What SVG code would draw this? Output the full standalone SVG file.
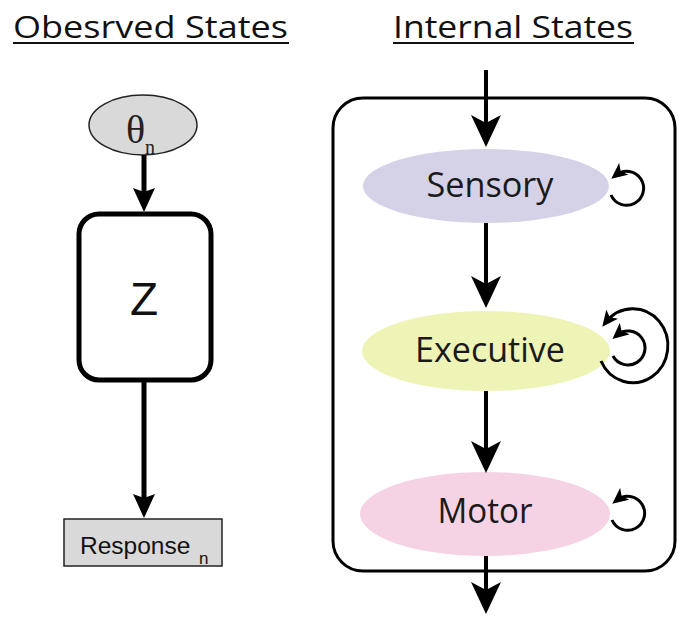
<svg xmlns="http://www.w3.org/2000/svg" width="678" height="618" viewBox="0 0 678 618">
<defs>
<style>
.title{font-family:"Open Sans","Noto Sans",sans-serif;font-size:31px;fill:#111}
.ul{stroke:#111;stroke-width:2}
.lbl{font-family:"Open Sans","Noto Sans",sans-serif;font-size:34px;fill:#1a1a1a;text-anchor:middle}
.conn{stroke:#000;fill:none}
.gray{fill:#d9d9d9;stroke:#222;stroke-width:1.5}
.serif{font-family:"Liberation Serif","Times New Roman",serif;fill:#222}
.sans{font-family:"Liberation Sans",Arial,sans-serif;fill:#111}
</style>
<marker id="big" viewBox="0 0 32 30" refX="24" refY="15" markerWidth="32" markerHeight="30" markerUnits="userSpaceOnUse" orient="auto">
<path d="M0,0 L32,15 L0,30 L8,15 Z" fill="#000"/>
</marker>
<marker id="med" viewBox="0 0 24 22" refX="18" refY="11" markerWidth="24" markerHeight="22" markerUnits="userSpaceOnUse" orient="auto">
<path d="M0,0 L24,11 L0,22 L4,11 Z" fill="#000"/>
</marker>
<marker id="sm" viewBox="0 0 16 15" refX="10" refY="7.5" markerWidth="16" markerHeight="15" markerUnits="userSpaceOnUse" orient="auto">
<path d="M0,0 L16,7.5 L0,15 L4,7.5 Z" fill="#000"/>
</marker>
</defs>
<rect width="678" height="618" fill="#fff"/>

<g id="titles">
<text class="title" x="13" y="38" textLength="275" lengthAdjust="spacingAndGlyphs">Obesrved States</text>
<line class="ul" x1="13" y1="43" x2="289" y2="43"/>
<text class="title" x="393" y="38" textLength="240" lengthAdjust="spacingAndGlyphs">Internal States</text>
<line class="ul" x1="393" y1="43" x2="634" y2="43"/>
</g>

<g id="internal-container">
<rect x="333" y="98" width="342" height="473" rx="30" ry="30" fill="none" stroke="#000" stroke-width="3"/>
</g>

<g id="theta">
<ellipse class="gray" cx="143" cy="125" rx="54" ry="30"/>
<text class="serif" x="126" y="143" font-size="40">θ<tspan x="145" y="154" font-size="20">n</tspan></text>
</g>

<g id="Z">
<rect x="79" y="214" width="132" height="166" rx="20" ry="20" fill="#fff" stroke="#000" stroke-width="5"/>
<text class="sans" x="144" y="315" font-size="46" text-anchor="middle">Z</text>
</g>

<g id="response">
<rect class="gray" x="64" y="519" width="158" height="47"/>
<text class="sans" x="80" y="554" font-size="24.5">Response<tspan x="199" y="564" font-size="17">n</tspan></text>
</g>

<g id="sensory">
<ellipse cx="486" cy="186" rx="123" ry="37" fill="#d5d2e8"/>
<text class="lbl" x="490" y="197" textLength="127" lengthAdjust="spacingAndGlyphs">Sensory</text>
</g>

<g id="executive">
<ellipse cx="486" cy="351" rx="124" ry="40" fill="#eef3b6"/>
<text class="lbl" x="490" y="362" textLength="150" lengthAdjust="spacingAndGlyphs">Executive</text>
</g>

<g id="motor">
<ellipse cx="485" cy="514" rx="125" ry="42" fill="#f5d3e4"/>
<text class="lbl" x="485" y="523" textLength="95" lengthAdjust="spacingAndGlyphs">Motor</text>
</g>

<g id="connectors">
<line class="conn" x1="144" y1="155" x2="144" y2="206" stroke-width="5" marker-end="url(#med)"/>
<line class="conn" x1="144" y1="381" x2="144" y2="512" stroke-width="5" marker-end="url(#med)"/>
<line class="conn" x1="486" y1="70" x2="486" y2="139" stroke-width="4" marker-end="url(#big)"/>
<line class="conn" x1="486" y1="223" x2="486" y2="300" stroke-width="4" marker-end="url(#big)"/>
<line class="conn" x1="486" y1="391" x2="486" y2="465" stroke-width="4" marker-end="url(#big)"/>
<line class="conn" x1="486" y1="556" x2="486" y2="606" stroke-width="4" marker-end="url(#big)"/>
<path class="conn" d="M611,195 A17,17 0 1 0 616,175" stroke-width="3" marker-end="url(#sm)"/>
<path class="conn" d="M613,356 A17,17 0 1 0 617,335" stroke-width="3" marker-end="url(#sm)"/>
<path class="conn" d="M601,361 A35,37 0 1 0 606,322" stroke-width="3" marker-end="url(#sm)"/>
<path class="conn" d="M612,520 A17,17 0 1 0 617,500" stroke-width="3" marker-end="url(#sm)"/>
</g>
</svg>
